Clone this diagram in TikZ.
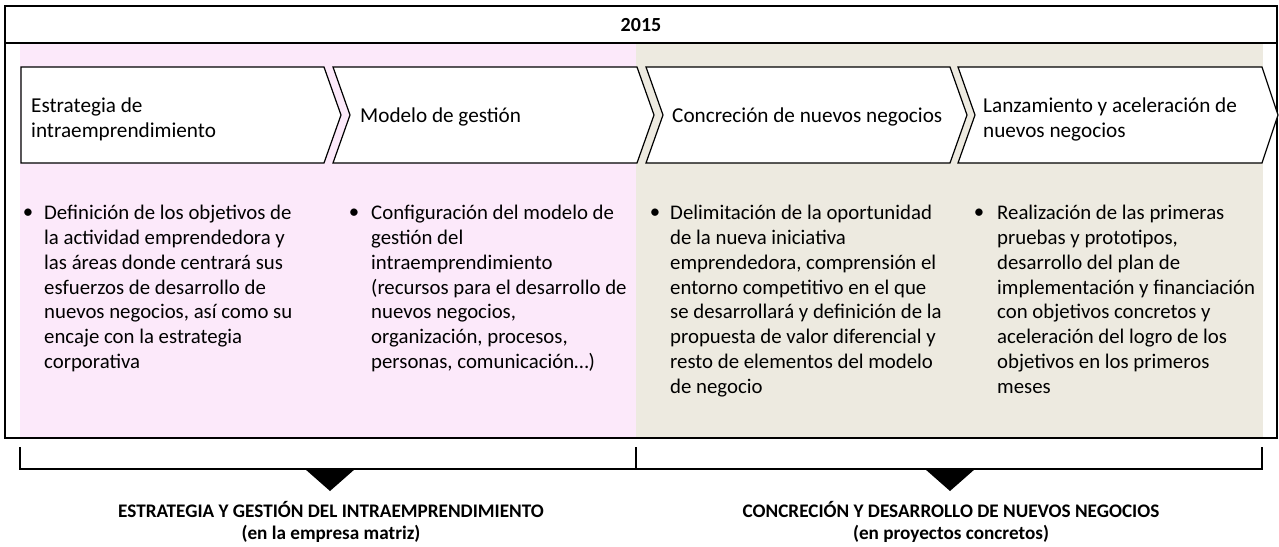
\documentclass[tikz,border=0pt]{standalone}
\usepackage{fontspec}
\setmainfont{Carlito}
\usetikzlibrary{positioning}
\definecolor{lightpink}{RGB}{252,233,250}
\definecolor{lightbeige}{RGB}{237,234,224}
\tikzstyle{chev}=[draw=black, fill=white, line width=1.2pt, line join=miter]
\tikzstyle{head}=[anchor=west, align=left, inner sep=0pt,
  font=\fontsize{21.2}{25}\selectfont]
\tikzstyle{body}=[anchor=north west, align=left, inner sep=0pt,
  font=\fontsize{20.8}{24.8}\selectfont]

\begin{document}
\begin{tikzpicture}[x=1pt, y=-1pt]
    \tikzstyle{dot}=[inner sep=0pt, font=\fontsize{20.8}{25}\selectfont]
    \tikzstyle{phase}=[align=center, inner sep=0pt,
      font=\fontsize{19.2}{22}\selectfont\bfseries]
    \useasboundingbox (0,0) rectangle (1279,546);

    % backgrounds of the two phases
    \fill[lightpink] (20,44) rectangle (636,437);
    \fill[lightbeige] (636,44) rectangle (1263,437);

    % year frame
    \draw[line width=2pt] (5,6) rectangle (1277,438);
    \draw[line width=2pt] (5,43) -- (1277,43);
    \node[font=\fontsize{20}{22}\selectfont\bfseries] (year) at (641,25) {2015};

    % chevrons
    \draw[chev] (21,67) -- (324,67) -- (341,115) -- (324,163) -- (21,163) -- cycle;
    \draw[chev] (333,67) -- (637,67) -- (654,115) -- (637,163) -- (333,163)
      -- (350,115) -- cycle;
    \draw[chev] (646,67) -- (950,67) -- (967,115) -- (950,163) -- (646,163)
      -- (663,115) -- cycle;
    \draw[chev] (958,67) -- (1262,67) -- (1278,115) -- (1262,163) -- (958,163)
      -- (975,115) -- cycle;

    \node[head] (h1) at (31,119) {Estrategia de\\intraemprendimiento};
    \node[head] (h2) at (360,117) {Modelo de gestión};
    \node[head] (h3) at (672,117) {Concreción de nuevos negocios};
    \node[head] (h4) at (983,119) {Lanzamiento y aceleración de\\nuevos negocios};

    % bullet texts
    \node[dot] (d1) at (28,214) {•};
    \node[body] (t1) at (44,205) {Definición de los objetivos de\\la actividad
      emprendedora y\\las áreas donde centrará sus\\esfuerzos de desarrollo
      de\\nuevos negocios, así como su\\encaje con la
      estrategia\\corporativa};

    \node[dot] (d2) at (354,214) {•};
    \node[body] (t2) at (371,205) {Configuración del modelo de\\gestión
      del\\intraemprendimiento\\(recursos para el desarrollo de\\nuevos
      negocios,\\organización, procesos,\\personas, comunicación…)};

    \node[dot] (d3) at (655,214) {•};
    \node[body] (t3) at (670,205) {Delimitación de la oportunidad\\de la nueva
      iniciativa\\emprendedora, comprensión el\\entorno competitivo en el
      que\\se desarrollará y definición de la\\propuesta de valor diferencial
      y\\resto de elementos del modelo\\de negocio};

    \node[dot] (d4) at (979,214) {•};
    \node[body] (t4) at (997,205) {Realización de las primeras\\pruebas y
      prototipos,\\desarrollo del plan de\\implementación y
      financiación\\con objetivos concretos y\\aceleración del logro de
      los\\objetivos en los primeros\\meses};

    % brackets below
    \draw[line width=1.6pt] (20,447) -- (20,469) -- (1262,469) -- (1262,447);
    \draw[line width=1.6pt] (636,447) -- (636,469);
    \fill (305,469) -- (355,469) -- (330,491) -- cycle;
    \fill (925,469) -- (975,469) -- (950,491) -- cycle;

    \node[phase] (p1) at (331,522) {ESTRATEGIA Y GESTIÓN DEL
      INTRAEMPRENDIMIENTO\\(en la empresa matriz)};
    \node[phase] (p2) at (951,522) {CONCRECIÓN Y DESARROLLO DE NUEVOS
      NEGOCIOS\\(en proyectos concretos)};
\end{tikzpicture}
\end{document}
